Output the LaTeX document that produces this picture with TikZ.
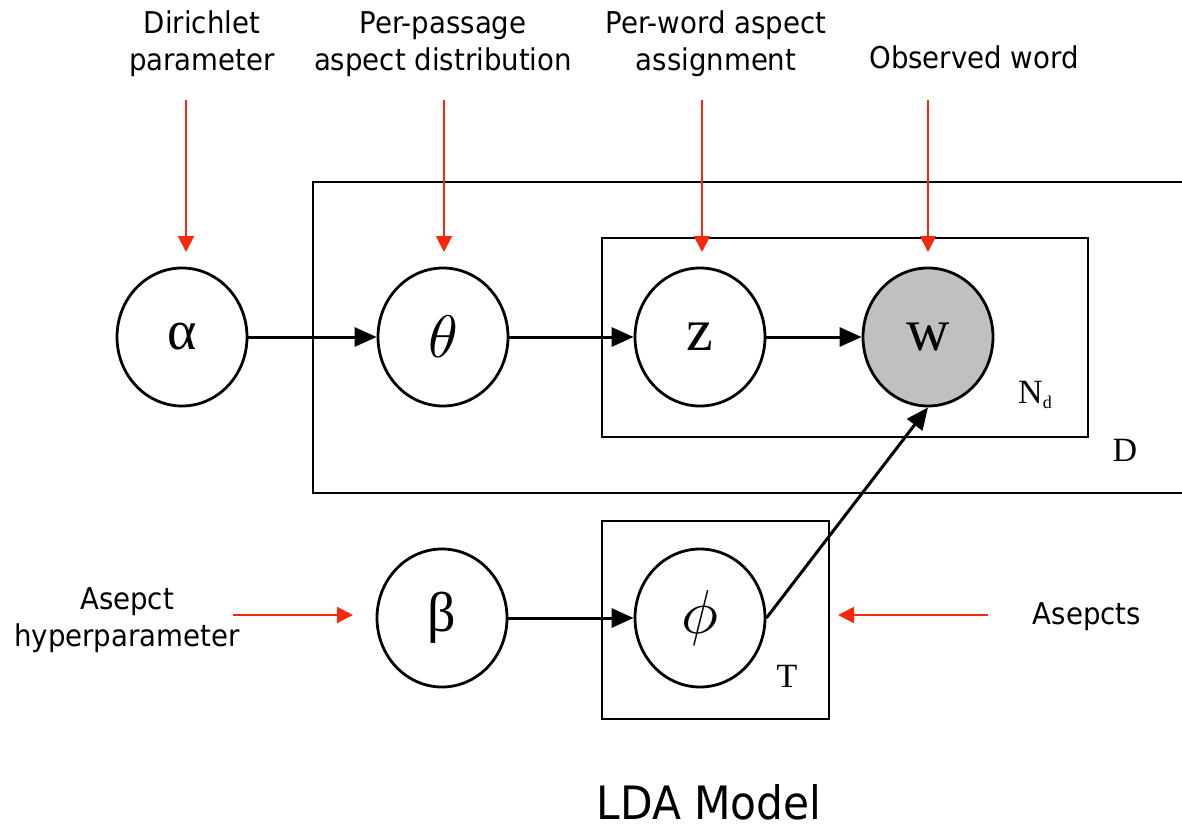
\documentclass[tikz,border=0pt]{standalone}
\usepackage{fontspec}
\usepackage{graphicx}
\usetikzlibrary{shapes.geometric,arrows.meta}
\newfontfamily\labfont{DejaVu Sans}[FakeStretch=0.92]
\newfontfamily\serfont{Liberation Serif}
\definecolor{lred}{RGB}{250,40,10}
\definecolor{wgray}{RGB}{192,192,192}
\tikzset{
  var/.style={draw, ellipse, line width=2.8pt, minimum width=130pt, minimum height=138pt, inner sep=0pt, fill=white},
  plate/.style={draw, rectangle, line width=2.8pt, inner sep=0pt},
  lab/.style={font=\labfont\fontsize{30}{37}\selectfont, align=center, inner sep=0pt},
  platelab/.style={font=\serfont\fontsize{34}{34}\selectfont, inner sep=0pt},
  edge/.style={line width=3pt, -{Triangle[length=22pt,width=19pt]}},
  redarr/.style={line width=2pt, lred, -{Triangle[length=16pt,width=16pt]}}
}
\begin{document}
\begin{tikzpicture}[x=1pt,y=-1pt]
\useasboundingbox[fill=white] (0,0) rectangle (1182,829);
% plates
\node[plate, minimum width=882pt, minimum height=311pt] (pD) at (754,337.5) {};
\node[plate, minimum width=486pt, minimum height=199pt] (pN) at (845,337.5) {};
\node[plate, minimum width=227pt, minimum height=198pt] (pT) at (715.5,620) {};
\node[platelab] (lD) at (1125,450) {D};
\node[platelab] (lN) at (1035,395) {N\raisebox{-0.3ex}{\fontsize{18}{18}\selectfont d}};
\node[platelab] (lT) at (787,676) {T};
% variables
\node[var] (alpha) at (182,337) {\serfont\fontsize{56}{56}\selectfont α};
\node[var] (theta) at (443,337) {\scalebox{6}{$\theta$}};
\node[var] (z) at (700,337) {\serfont\fontsize{60}{60}\selectfont z};
\node[var, fill=wgray] (w) at (928,337) {\serfont\fontsize{60}{60}\selectfont w};
\node[var] (beta) at (442,618) {\serfont\fontsize{56}{56}\selectfont β};
\node[var] (phi) at (700,618) {\scalebox{6.2}{$\phi$}};
% edges
\draw[edge] (alpha) -- (theta);
\draw[edge] (theta) -- (z);
\draw[edge] (z) -- (w);
\draw[edge] (beta) -- (phi);
\draw[edge] (phi.east) -- (w.south);
% labels
\node[lab] (l1) at (202,44) {Dirichlet\\parameter};
\node[lab] (l2) at (443,44) {Per-passage\\aspect distribution};
\node[lab] (l3) at (716,44) {Per-word aspect\\assignment};
\node[lab] (l4) at (974,57) {Observed word};
\node[lab] (l5) at (127,620) {Asepct\\hyperparameter};
\node[lab] (l6) at (1087,617) {Asepcts};
\node[font=\labfont\fontsize{46}{46}\selectfont, inner sep=0pt] (title) at (709,802) {LDA Model};
% red arrows
\coordinate (s1) at (186,100); \coordinate (e1) at (186,252);
\coordinate (s2) at (444,100); \coordinate (e2) at (444,252);
\coordinate (s3) at (702,100); \coordinate (e3) at (702,252);
\coordinate (s4) at (928,100); \coordinate (e4) at (928,252);
\coordinate (s5) at (233,615); \coordinate (e5) at (353,615);
\coordinate (s6) at (988,615); \coordinate (e6) at (838,615);
\draw[redarr] (s1) -- (e1);
\draw[redarr] (s2) -- (e2);
\draw[redarr] (s3) -- (e3);
\draw[redarr] (s4) -- (e4);
\draw[redarr] (s5) -- (e5);
\draw[redarr] (s6) -- (e6);
\end{tikzpicture}
\end{document}
